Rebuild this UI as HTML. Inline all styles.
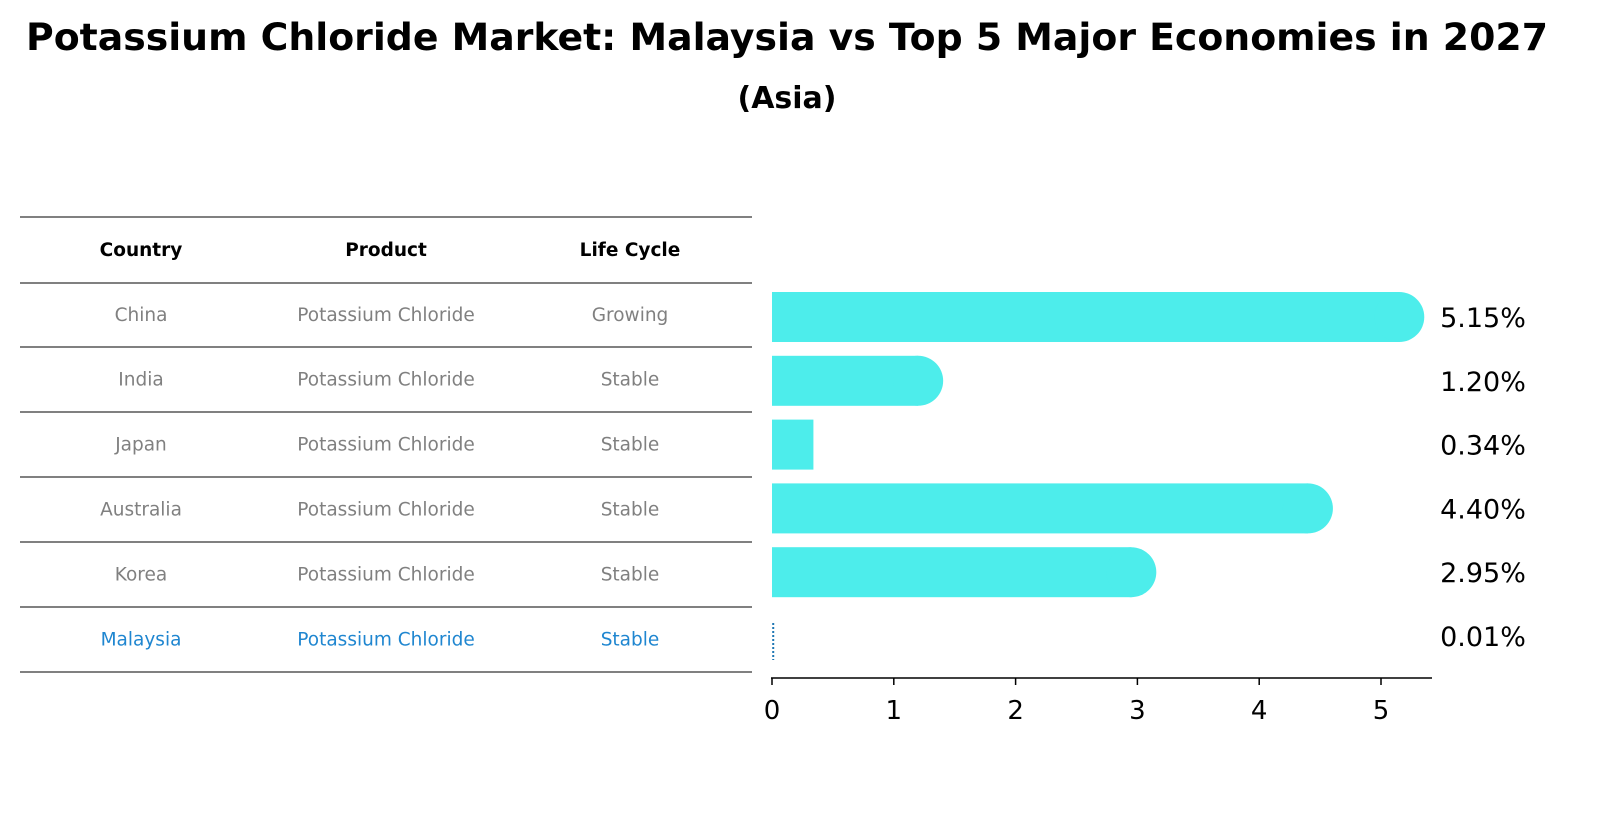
<!DOCTYPE html>
<html><head><meta charset="utf-8"><style>
body{margin:0;background:#fff;font-family:"Liberation Sans","DejaVu Sans",sans-serif}
svg text{font-family:"DejaVu Sans","Liberation Sans",sans-serif}
</style></head><body>
<svg width="1609" height="823" viewBox="0 0 1609 823">
<text x="787" y="50" text-anchor="middle" font-size="37" font-weight="bold" textLength="1522" lengthAdjust="spacingAndGlyphs">Potassium Chloride Market: Malaysia vs Top 5 Major Economies in 2027</text>
<text x="787" y="108" text-anchor="middle" font-size="30" font-weight="bold">(Asia)</text>
<g id="table"></g>
<g id="bars"></g>
</svg>
<script>
const countries=["China","India","Japan","Australia","Korea","Malaysia"];
const products=["Potassium Chloride","Potassium Chloride","Potassium Chloride","Potassium Chloride","Potassium Chloride","Potassium Chloride"];
const lifeCycles=["Growing","Stable","Stable","Stable","Stable","Stable"];
const values=[5.15,1.20,0.34,4.40,2.95,0.01];
const valueLabels=["5.15%","1.20%","0.34%","4.40%","2.95%","0.01%"];
const ticks=[0,1,2,3,4,5];
const NS="http://www.w3.org/2000/svg";
function mk(tag,attrs,parent){const e=document.createElementNS(NS,tag);for(const k in attrs)e.setAttribute(k,attrs[k]);parent.appendChild(e);return e;}
const x=v=>772+v*121.8;
const rowY=i=>317+i*63.8;
const tbl=document.getElementById('table');
const bars=document.getElementById('bars');
const colX=[141,386,630];
const lineYs=[217,283,347,412,477,542,607,672];
lineYs.forEach((y,i)=>{const l=mk('line',{x1:20,x2:752,y1:y,y2:y,stroke:'#000','stroke-width':1},tbl);

});
["Country","Product","Life Cycle"].forEach((h,j)=>{const t=mk('text',{x:colX[j],y:256,'text-anchor':'middle','font-size':18.5,'font-weight':'bold'},tbl);t.textContent=h;

});
countries.forEach((c,i)=>{
 const y=(lineYs[i+1]+lineYs[i+2])/2+6;
 const col=c==="Malaysia"?"#1f86d0":"#808080";
 [c,products[i],lifeCycles[i]].forEach((v,j)=>{const t=mk('text',{x:colX[j],y:y,'text-anchor':'middle','font-size':18.5,fill:col},tbl);t.textContent=v;
 
 });
 const cy=rowY(i);
 if(c==="Malaysia"){
  const l=mk('line',{x1:x(values[i]),x2:x(values[i]),y1:cy-13,y2:cy+24,stroke:'#1f77b4','stroke-width':2,'stroke-dasharray':'2,2'},bars);
  
  
 } else {
  const g=mk('g',{},bars);
  
  
  mk('rect',{x:x(0),y:cy-25,width:x(values[i])-x(0),height:50,fill:'#4DEDEB'},g);
  if(values[i]>0.5) mk('circle',{cx:x(values[i]),cy:cy,r:25,fill:'#4DEDEB'},g);
 }
 const t=mk('text',{x:1483,y:cy+10,'text-anchor':'middle','font-size':27},bars);t.textContent=valueLabels[i];
 
 
});
const ax=mk('line',{x1:771,x2:1432,y1:678,y2:678,stroke:'#000','stroke-width':1.5},bars);


ticks.forEach(v=>{mk('line',{x1:x(v),x2:x(v),y1:678,y2:685,stroke:'#000','stroke-width':1.5},bars);
 const t=mk('text',{x:x(v),y:719,'text-anchor':'middle','font-size':26},bars);t.textContent=v;
 
 });
</script>
</body></html>
